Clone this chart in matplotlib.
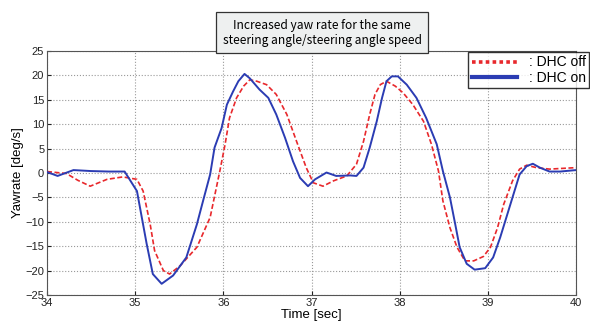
import matplotlib
matplotlib.use("Agg")
import matplotlib.pyplot as plt
from matplotlib.lines import Line2D

# DHC on (blue, solid)
t_on = [34.0, 34.12, 34.3, 34.5, 34.7, 34.88, 35.02, 35.13, 35.2, 35.3, 35.43, 35.58, 35.7, 35.77,
        35.85, 35.9, 35.98, 36.04, 36.11, 36.17, 36.24, 36.3, 36.41, 36.51, 36.6, 36.7, 36.79,
        36.87, 36.96, 37.04, 37.17, 37.28, 37.44, 37.51, 37.59, 37.66, 37.74, 37.8, 37.85, 37.91,
        37.98, 38.08, 38.19, 38.3, 38.42, 38.49, 38.57, 38.63, 38.68, 38.76, 38.85, 38.97, 39.06,
        39.14, 39.21, 39.29, 39.36, 39.44, 39.51, 39.59, 39.7, 39.82, 40.0]
v_on = [0.2, -0.6, 0.6, 0.4, 0.3, 0.3, -3.7, -14.5, -20.7, -22.7, -21.0, -17.3, -10.5, -5.7,
        -0.3, 5.2, 9.2, 14.0, 16.7, 18.8, 20.3, 19.4, 17.1, 15.4, 12.0, 7.2, 2.4,
        -1.0, -2.7, -1.3, 0.1, -0.6, -0.5, -0.6, 1.1, 5.2, 10.6, 15.4, 18.8, 19.8,
        19.8, 18.1, 15.4, 11.3, 5.9, 0.4, -5.0, -10.5, -15.2, -18.6, -19.8, -19.5, -17.3,
        -13.2, -9.1, -4.4, -0.3, 1.4, 1.9, 1.1, 0.3, 0.3, 0.6]

# DHC off (red, dashed)
t_off = [34.0, 34.22, 34.35, 34.49, 34.68, 34.86, 35.02, 35.09, 35.17, 35.22, 35.32, 35.39, 35.51,
         35.7, 35.85, 35.96, 36.02, 36.07, 36.15, 36.23, 36.3, 36.38, 36.49, 36.6, 36.72, 36.83,
         36.94, 37.02, 37.13, 37.25, 37.4, 37.51, 37.59, 37.66, 37.72, 37.78, 37.85, 37.95, 38.04,
         38.15, 38.27, 38.36, 38.44, 38.49, 38.57, 38.65, 38.74, 38.84, 38.95, 39.03, 39.11,
         39.18, 39.28, 39.36, 39.44, 39.55, 39.7, 40.0]
v_off = [0.3, -0.1, -1.5, -2.7, -1.3, -0.8, -1.3, -3.7, -10.5, -15.9, -20.0, -20.7, -19.0,
         -15.2, -9.1, 0.4, 5.9, 11.3, 15.4, 17.8, 19.1, 18.8, 18.1, 16.1, 12.0, 6.5,
         1.1, -2.0, -2.7, -1.6, -0.6, 1.8, 6.5, 12.0, 16.1, 18.1, 18.8, 17.8, 16.4,
         14.0, 10.6, 5.9, 0.4, -5.7, -11.2, -15.2, -18.0, -18.0, -17.1, -15.2, -11.2,
         -6.4, -1.6, 0.8, 1.6, 1.1, 0.8, 1.1]

x_ticks = [34, 35, 36, 37, 38, 39, 40]
y_ticks = [-25, -20, -15, -10, -5, 0, 5, 10, 15, 20, 25]
title_text = "Increased yaw rate for the same\nsteering angle/steering angle speed"
legend_labels = [": DHC off", ": DHC on"]

blue = "#2b3cb3"
red = "#e8282c"

plt.rcParams['font.family'] = ['Liberation Sans', 'DejaVu Sans']

fig = plt.figure(figsize=(5.9, 3.26), dpi=100)
ax = fig.add_axes([0.0797, 0.095, 0.8966, 0.7486])

ax.plot(t_off, v_off, color=red, lw=1.2, ls=(0, (3, 1.5)), zorder=3)
ax.plot(t_on, v_on, color=blue, lw=1.4, zorder=4)

ax.set_xlim(34, 40)
ax.set_ylim(-25, 25)
ax.set_xticks(x_ticks)
ax.set_yticks(y_ticks)
ax.tick_params(direction='in', length=3, labelsize=8, colors='#222222', pad=2)
ax.grid(True, color='#999999', ls=':', lw=0.8)
for s in ax.spines.values():
    s.set_color('#555555')
    s.set_linewidth(0.8)

ax.set_xlabel("Time [sec]", fontsize=9.5, labelpad=1)
ax.set_ylabel("Yawrate [deg/s]", fontsize=9.5, labelpad=1)

# title box
fig.text(0.5463, 0.900, title_text, ha='center', va='center', fontsize=8.6,
         family=['Noto Sans CJK KR', 'DejaVu Sans'], linespacing=1.2,
         bbox=dict(boxstyle='square,pad=0.55', facecolor='#eef0f0', edgecolor='#333333', lw=0.9),
         zorder=10)

handles = [Line2D([], [], color=red, lw=2.6, ls=(0, (1.0, 0.9))),
           Line2D([], [], color=blue, lw=3)]
leg = fig.legend(handles, legend_labels, loc='upper right',
                 bbox_to_anchor=(589 / 590, 1 - 52 / 326),
                 fontsize=10, frameon=True, fancybox=False, handlelength=3.3,
                 handletextpad=0.8, borderpad=0.25, labelspacing=0.1, borderaxespad=0.0)
leg.get_frame().set_edgecolor('black')
leg.get_frame().set_linewidth(1.0)
leg.set_zorder(10)

fig.savefig("out.png", dpi=100)
